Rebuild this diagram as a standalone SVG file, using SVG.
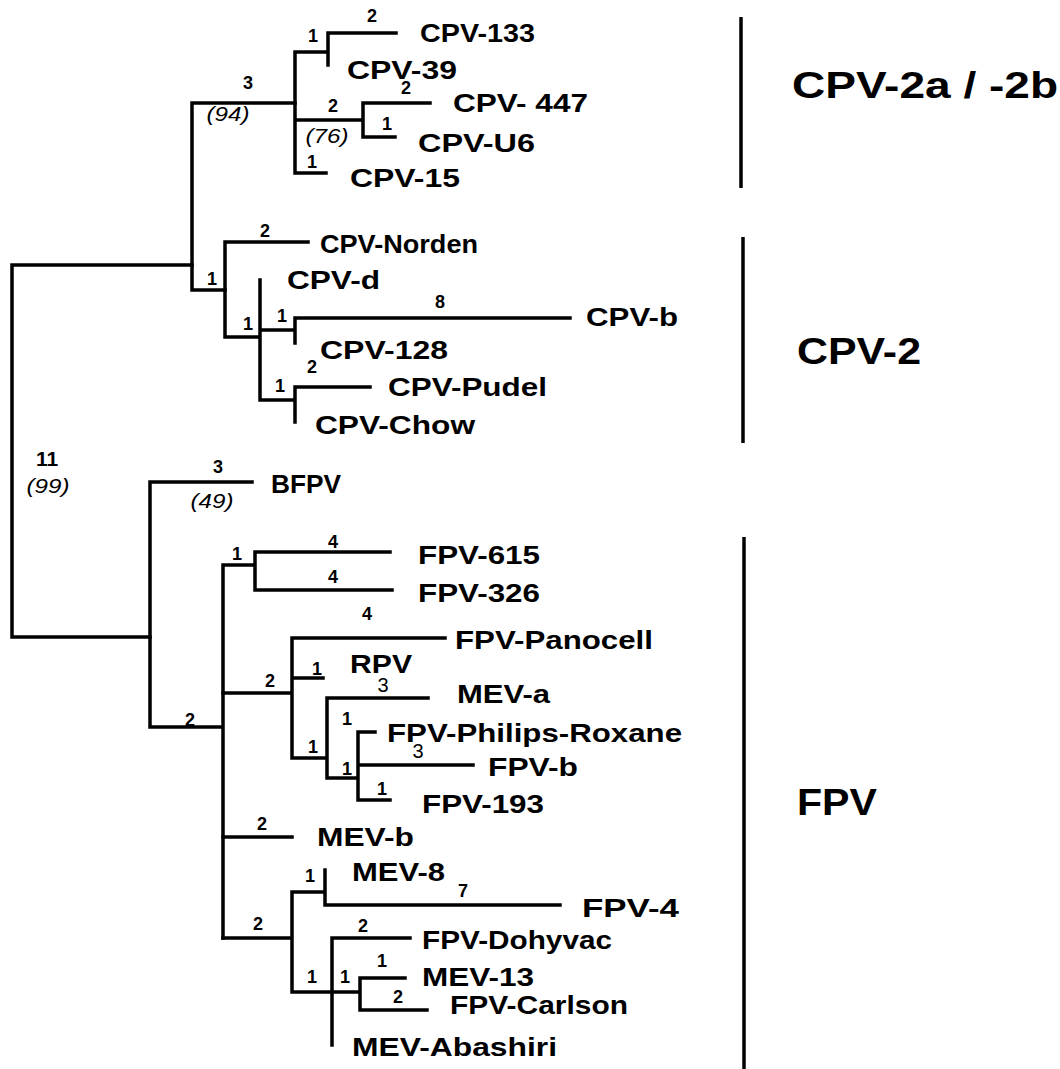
<svg xmlns="http://www.w3.org/2000/svg" width="1060" height="1069" viewBox="0 0 1060 1069">
<style>
text{font-family:"Liberation Sans",Arial,sans-serif;fill:#000}
.leaf{font-weight:bold;font-size:26px}
.num{font-weight:bold;font-size:18px;text-anchor:middle}
.reg{font-size:20px;text-anchor:middle}
.boot{font-style:italic;font-size:20px;text-anchor:middle}
.clade{font-weight:bold;font-size:37px}
.br{stroke:#000;stroke-width:3.5;fill:none;stroke-linecap:square}
.bk{stroke:#000;stroke-width:3.5;fill:none}
</style>
<rect width="1060" height="1069" fill="#fff"/>
<g id="connectors" class="br">
<path d="M12 265V637M12 265H192M12 637H150"/>
<path d="M192 103V290M192 103H295M192 290H225"/>
<path d="M295 52V173M295 52H328M328 33V65M328 33H396M295 120H363M363 103V137M363 103H430M363 137H395M295 173H326"/>
<path d="M225 242V337M225 242H308M225 337H260M260 280V400M260 330H295M295 318V343M295 318H570M260 400H295M295 387V422M295 387H370"/>
<path d="M150 482V727M150 482H252M150 727H223M223 565V938M223 565H255M255 552V590M255 552H390M255 590H392"/>
<path d="M223 693H292M292 638V758M292 638H445M292 678H323M292 758H327M327 698V778M327 698H428M327 778H358M358 732V800M358 732H375M358 765H473M358 800H390"/>
<path d="M223 837H292M223 938H292M292 892V992M292 892H325M325 870V905M325 905H560M292 992H360M332 938V1045M332 938H410M360 978V1010M360 978H405M360 1010H427"/>
</g>
<g id="brackets" class="bk">
<path d="M741 17V188"/>
<path d="M743 237V443"/>
<path d="M744 537V1069"/>
</g>
<g id="branch-labels">
<text class="num" x="372" y="22">2</text>
<text class="num" x="313" y="42">1</text>
<text class="num" x="248" y="89">3</text>
<text class="boot" x="228" y="121" textLength="43" lengthAdjust="spacingAndGlyphs">(94)</text>
<text class="num" x="333" y="112">2</text>
<text class="boot" x="327" y="143" textLength="43" lengthAdjust="spacingAndGlyphs">(76)</text>
<text class="num" x="406" y="94">2</text>
<text class="num" x="387" y="130">1</text>
<text class="num" x="312" y="168">1</text>
<text class="num" x="265" y="237">2</text>
<text class="num" x="212" y="285">1</text>
<text class="num" x="248" y="330">1</text>
<text class="num" x="440" y="308">8</text>
<text class="num" x="282" y="322">1</text>
<text class="num" x="312" y="373">2</text>
<text class="num" x="280" y="392">1</text>
<text class="num" x="47" y="466" style="font-size:21px">11</text>
<text class="boot" x="48" y="493" textLength="43" lengthAdjust="spacingAndGlyphs">(99)</text>
<text class="num" x="218" y="473">3</text>
<text class="boot" x="212" y="508" textLength="43" lengthAdjust="spacingAndGlyphs">(49)</text>
<text class="num" x="237" y="560">1</text>
<text class="num" x="333" y="548">4</text>
<text class="num" x="333" y="583">4</text>
<text class="num" x="367" y="620">4</text>
<text class="num" x="270" y="687">2</text>
<text class="num" x="317" y="675">1</text>
<text class="reg" x="383" y="692">3</text>
<text class="num" x="347" y="725">1</text>
<text class="reg" x="418" y="758">3</text>
<text class="num" x="313" y="753">1</text>
<text class="num" x="347" y="775">1</text>
<text class="num" x="382" y="795">1</text>
<text class="num" x="190" y="726">2</text>
<text class="num" x="262" y="830">2</text>
<text class="num" x="258" y="930">2</text>
<text class="num" x="310" y="882">1</text>
<text class="num" x="463" y="897">7</text>
<text class="num" x="363" y="932">2</text>
<text class="num" x="312" y="983">1</text>
<text class="num" x="345" y="983">1</text>
<text class="num" x="382" y="967">1</text>
<text class="num" x="398" y="1003">2</text>
</g>
<g id="leaf-CPV-133"><text class="leaf" x="420" y="42" textLength="115" lengthAdjust="spacingAndGlyphs">CPV-133</text></g>
<g id="leaf-CPV-39"><text class="leaf" x="347" y="79" textLength="110" lengthAdjust="spacingAndGlyphs">CPV-39</text></g>
<g id="leaf-CPV-447"><text class="leaf" x="453" y="112" textLength="135" lengthAdjust="spacingAndGlyphs">CPV- 447</text></g>
<g id="leaf-CPV-U6"><text class="leaf" x="418" y="152" textLength="117" lengthAdjust="spacingAndGlyphs">CPV-U6</text></g>
<g id="leaf-CPV-15"><text class="leaf" x="350" y="187" textLength="110" lengthAdjust="spacingAndGlyphs">CPV-15</text></g>
<g id="leaf-CPV-Norden"><text class="leaf" x="320" y="253" textLength="158" lengthAdjust="spacingAndGlyphs">CPV-Norden</text></g>
<g id="leaf-CPV-d"><text class="leaf" x="287" y="289" textLength="93" lengthAdjust="spacingAndGlyphs">CPV-d</text></g>
<g id="leaf-CPV-b"><text class="leaf" x="586" y="326" textLength="92" lengthAdjust="spacingAndGlyphs">CPV-b</text></g>
<g id="leaf-CPV-128"><text class="leaf" x="320" y="359" textLength="128" lengthAdjust="spacingAndGlyphs">CPV-128</text></g>
<g id="leaf-CPV-Pudel"><text class="leaf" x="388" y="396" textLength="159" lengthAdjust="spacingAndGlyphs">CPV-Pudel</text></g>
<g id="leaf-CPV-Chow"><text class="leaf" x="315" y="434" textLength="160" lengthAdjust="spacingAndGlyphs">CPV-Chow</text></g>
<g id="leaf-BFPV"><text class="leaf" x="271" y="493" textLength="70" lengthAdjust="spacingAndGlyphs">BFPV</text></g>
<g id="leaf-FPV-615"><text class="leaf" x="418" y="564" textLength="122" lengthAdjust="spacingAndGlyphs">FPV-615</text></g>
<g id="leaf-FPV-326"><text class="leaf" x="418" y="602" textLength="122" lengthAdjust="spacingAndGlyphs">FPV-326</text></g>
<g id="leaf-FPV-Panocell"><text class="leaf" x="455" y="649" textLength="198" lengthAdjust="spacingAndGlyphs">FPV-Panocell</text></g>
<g id="leaf-RPV"><text class="leaf" x="350" y="673" textLength="62" lengthAdjust="spacingAndGlyphs">RPV</text></g>
<g id="leaf-MEV-a"><text class="leaf" x="457" y="703" textLength="93" lengthAdjust="spacingAndGlyphs">MEV-a</text></g>
<g id="leaf-FPV-Philips-Roxane"><text class="leaf" x="387" y="742" textLength="295" lengthAdjust="spacingAndGlyphs">FPV-Philips-Roxane</text></g>
<g id="leaf-FPV-b"><text class="leaf" x="488" y="776" textLength="90" lengthAdjust="spacingAndGlyphs">FPV-b</text></g>
<g id="leaf-FPV-193"><text class="leaf" x="422" y="813" textLength="122" lengthAdjust="spacingAndGlyphs">FPV-193</text></g>
<g id="leaf-MEV-b"><text class="leaf" x="317" y="846" textLength="97" lengthAdjust="spacingAndGlyphs">MEV-b</text></g>
<g id="leaf-MEV-8"><text class="leaf" x="352" y="881" textLength="93" lengthAdjust="spacingAndGlyphs">MEV-8</text></g>
<g id="leaf-FPV-4"><text class="leaf" x="582" y="917" textLength="97" lengthAdjust="spacingAndGlyphs">FPV-4</text></g>
<g id="leaf-FPV-Dohyvac"><text class="leaf" x="422" y="949" textLength="190" lengthAdjust="spacingAndGlyphs">FPV-Dohyvac</text></g>
<g id="leaf-MEV-13"><text class="leaf" x="422" y="986" textLength="112" lengthAdjust="spacingAndGlyphs">MEV-13</text></g>
<g id="leaf-FPV-Carlson"><text class="leaf" x="450" y="1014" textLength="178" lengthAdjust="spacingAndGlyphs">FPV-Carlson</text></g>
<g id="leaf-MEV-Abashiri"><text class="leaf" x="352" y="1056" textLength="205" lengthAdjust="spacingAndGlyphs">MEV-Abashiri</text></g>
<g id="clade-CPV-2a-2b"><text class="clade" x="792" y="98" textLength="266" lengthAdjust="spacingAndGlyphs">CPV-2a / -2b</text></g>
<g id="clade-CPV-2"><text class="clade" x="797" y="364" textLength="124" lengthAdjust="spacingAndGlyphs">CPV-2</text></g>
<g id="clade-FPV"><text class="clade" x="797" y="815" textLength="80" lengthAdjust="spacingAndGlyphs">FPV</text></g>
</svg>
